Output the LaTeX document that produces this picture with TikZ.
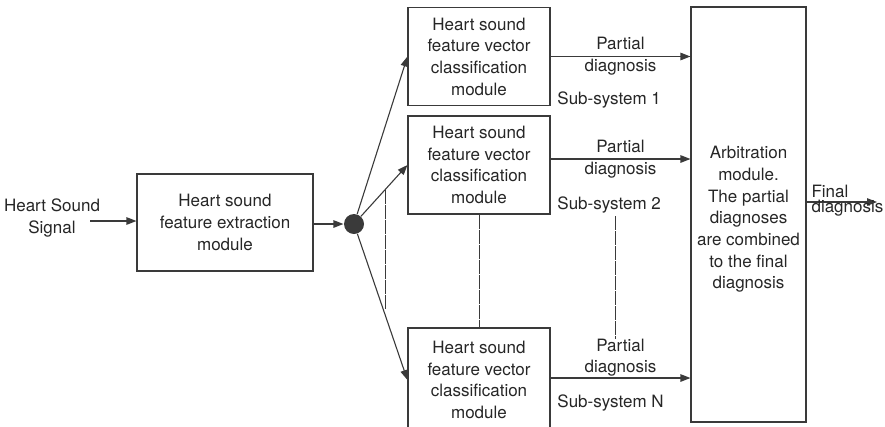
\documentclass[tikz,border=0pt]{standalone}
\usepackage{fontspec}
\setmainfont{TeX Gyre Heros}
\usetikzlibrary{positioning,arrows.meta}
\definecolor{linegray}{HTML}{3A3A3A}
\definecolor{textgray}{HTML}{262626}

\begin{document}
\begin{tikzpicture}[%
			x=1pt, y=-1pt,
			font=\fontsize{17}{21.7}\selectfont,
			color=linegray,
			text=textgray,
			line width=1.1pt,
			>={Triangle[length=10pt,width=7.5pt]},
			module/.style={%
				draw,
				minimum width=142pt,
				minimum height=98pt,
				align=center,
				inner sep=1pt
			},
			linkline/.style={%
				dash pattern=on 14pt off 1pt,
				line width=1pt
			}
			]
			\useasboundingbox (0,0) rectangle (885,426);
			\node[align=center] (signal) at (52,218) {Heart Sound\\Signal};
			\node[module, minimum width=176pt, minimum height=97pt] (extract) at (225,222.5) {Heart sound\\feature extraction\\module};
			\node[circle, fill=linegray, minimum size=20pt, inner sep=0pt] (split) at (354,224) {};
			\node[module] (class1) at (479,56.5) {Heart sound\\feature vector\\classification\\module};
			\node[module] (class2) at (479,165) {Heart sound\\feature vector\\classification\\module};
			\node[module, minimum height=104pt] (classN) at (479,380) {Heart sound\\feature vector\\classification\\module};
			\node[module, minimum width=115pt, minimum height=415pt] (arbiter) at (748.5,214.5) {};
			\node[align=center, yshift=-5pt] (arbtext) at (arbiter) {Arbitration\\module.\\The partial\\diagnoses\\are combined\\to the final\\diagnosis};
			
			\node[anchor=west, xshift=3pt, yshift=6pt] (sub1) at (class1.south east) {Sub-system 1};
			\node[anchor=west, xshift=3pt, yshift=10pt] (sub2) at (class2.south east) {Sub-system 2};
			\node[anchor=west, xshift=3pt, yshift=-23pt] (subN) at (classN.east) {Sub-system N};
			
			% inputs and fan-out
			\coordinate (sigend) at (90,221);
			\draw[->] (sigend) -- (extract.west |- sigend);
			\draw[->] (extract.east |- split) -- (split.west);
			\draw[->] (split) -- (class1.west);
			\draw[->] (split) -- (class2.west);
			\draw[->] (split) -- (classN.west);
			
			% omitted sub-systems
			\coordinate (fanA) at (385,189.5);
			\coordinate (fanB) at (385,309.5);
			\coordinate (subA) at (615,216);
			\coordinate (subB) at (615,339);
			\draw[linkline] (fanA) -- (fanB);
			\draw[linkline] (class2.south) -- (classN.north);
			\draw[linkline] (subA) -- (subB);
			
			% partial diagnoses
			\draw[->] (class1.east) -- (class1.east -| arbiter.west)
				node[midway, align=center] {Partial\\diagnosis};
			\draw[->] ([yshift=6pt]class2.east) -- ([yshift=6pt]class2.east -| arbiter.west)
				node[midway, align=center] {Partial\\diagnosis};
			\draw[->] ([yshift=2pt]classN.east) -- ([yshift=2pt]classN.east -| arbiter.west)
				node[midway, above, align=center, inner sep=1pt] {Partial\\diagnosis};
			
			\coordinate (final) at (877,202);
			\draw[->] (arbiter.east |- final) -- (final);
			\node[anchor=west, inner sep=0pt, align=left, font=\fontsize{17}{14.5}\selectfont] (finaltext) at (811,200.5) {Final\\diagnosis};
			\end{tikzpicture}
\end{document}
